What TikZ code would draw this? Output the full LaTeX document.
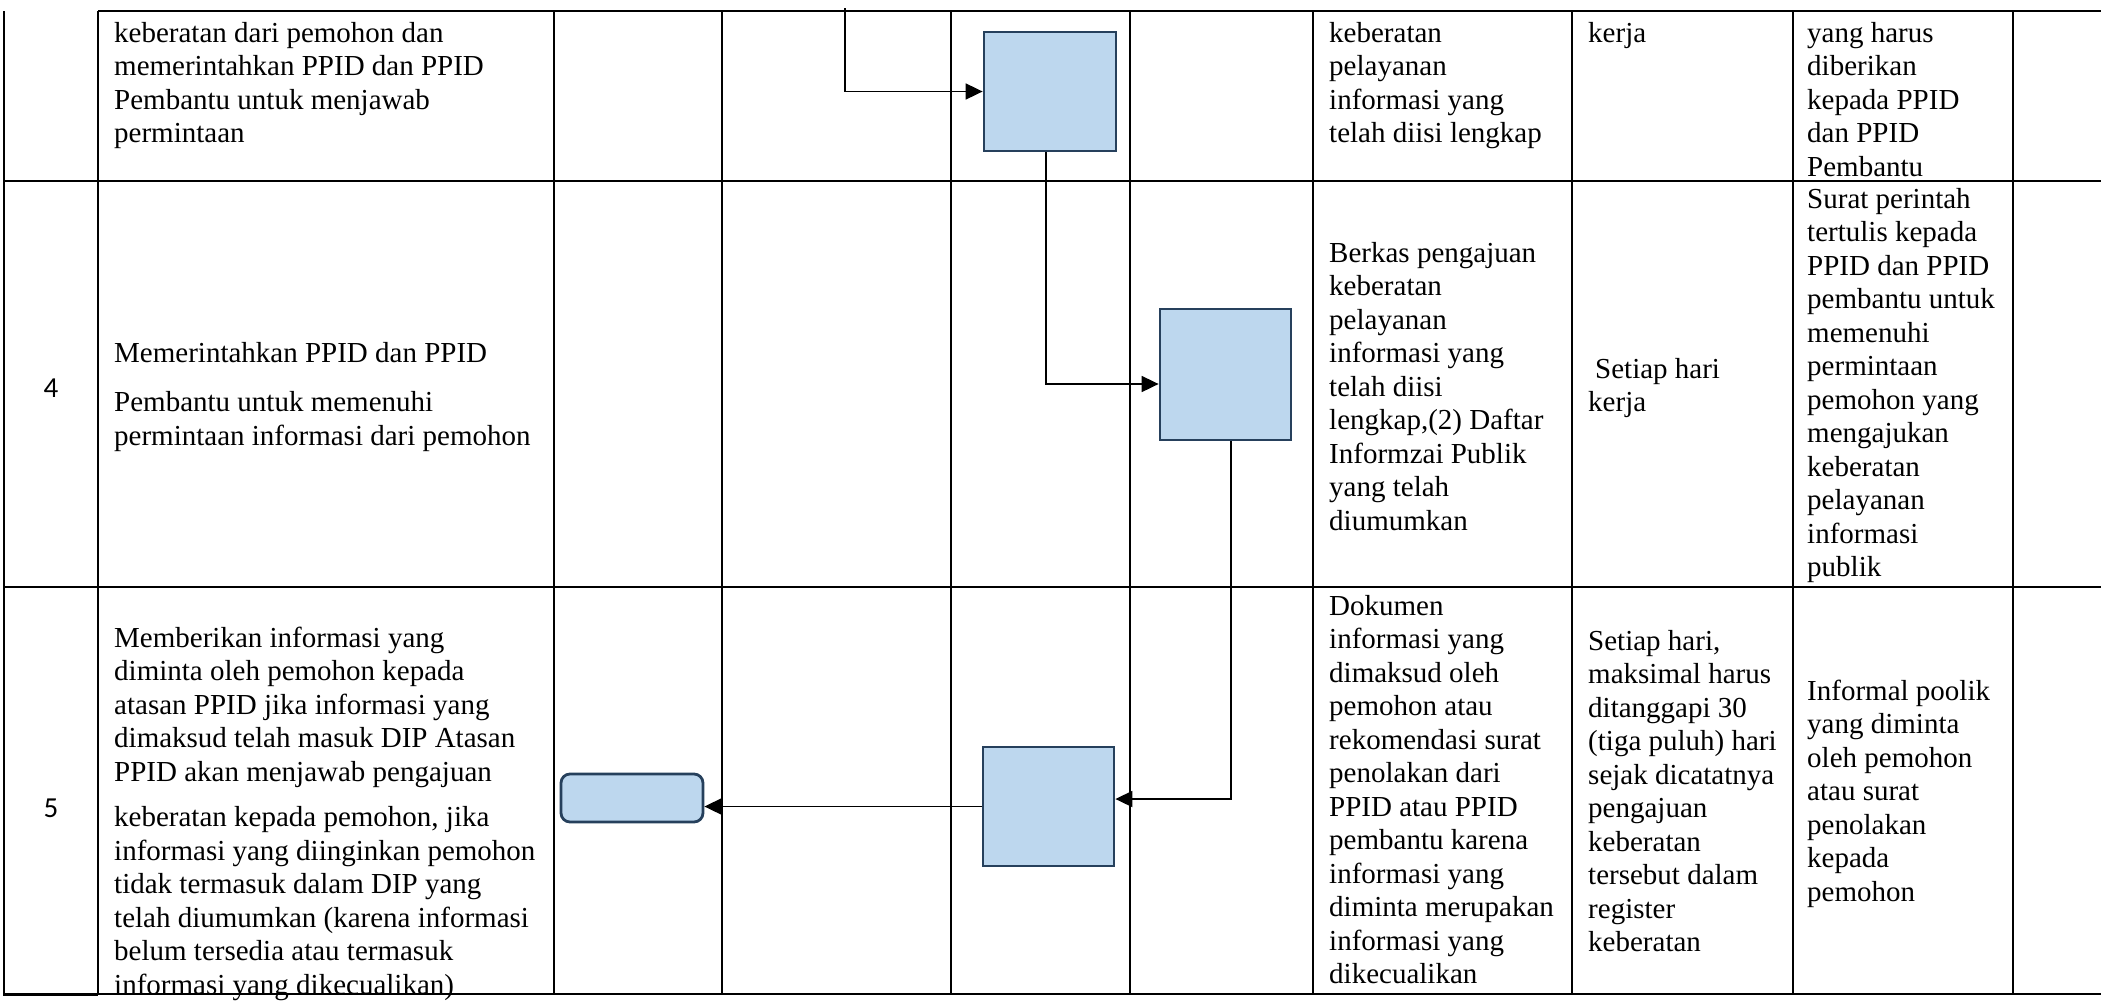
\documentclass[tikz,border=0pt]{standalone}
\usepackage{fontspec}
\setmainfont{Liberation Serif}
\newfontfamily\numfont{Carlito}
\usetikzlibrary{arrows.meta}
\definecolor{boxfill}{RGB}{189,215,238}
\definecolor{boxedge}{RGB}{38,64,92}
\newcommand{\firstln}{\rule{0pt}{22pt}}
\begin{document}
\begin{tikzpicture}[x=1pt,y=-1pt,
  grid/.style={line width=1.6pt, black},
  border/.style={line width=2.8pt, black},
  txt/.style={anchor=north west, inner sep=0pt, align=left, font=\fontsize{29}{33.5}\selectfont},
  num/.style={inner sep=0pt, font=\numfont\fontsize{29}{34}\selectfont},
  procbox/.style={draw=boxedge, fill=boxfill, line width=2.8pt, inner sep=0pt},
  endbox/.style={procbox, rounded corners=9pt},
  flow/.style={line width=1.8pt, black, -{Triangle[length=17pt,width=16pt]}}
]
\useasboundingbox (0,0) rectangle (2101,1002);

% table grid
\foreach \x in {98,554,722,951,1130,1313,1572,1793,2013}
  \draw[grid] (\x,11) -- (\x,994);
\draw[grid] (98,11) -- (2101,11);
\draw[grid] (4,181) -- (2101,181);
\draw[grid] (4,587) -- (2101,587);
\draw[grid] (4,994) -- (2101,994);
\draw[border] (4,995) -- (98,995);
\draw[border] (4,11) -- (4,996.4);

% row 3 (continued)
\node[txt] (r3d) at (114,20) {\firstln keberatan dari pemohon dan\\memerintahkan PPID dan PPID\\Pembantu untuk menjawab\\permintaan};
\node[txt] (r3a) at (1329,20) {\firstln keberatan\\pelayanan\\informasi yang\\telah diisi lengkap};
\node[txt] (r3b) at (1588,20) {\firstln kerja};
\node[txt] (r3c) at (1807,20) {\firstln yang harus\\diberikan\\kepada PPID\\dan PPID\\Pembantu};

% row 4
\node[num] (n4) at (51,388) {4};
\node[txt] (r4d) at (114,340) {\firstln Memerintahkan PPID dan PPID\\[16pt]Pembantu untuk memenuhi\\permintaan informasi dari pemohon};
\node[txt] (r4a) at (1329,240) {\firstln Berkas pengajuan\\keberatan\\pelayanan\\informasi yang\\telah diisi\\lengkap,(2) Daftar\\Informzai Publik\\yang telah\\diumumkan};
\node[txt] (r4b) at (1588,356) {\firstln\hspace*{7pt}Setiap hari\\kerja};
\node[txt] (r4c) at (1807,186) {\firstln Surat perintah\\tertulis kepada\\PPID dan PPID\\pembantu untuk\\memenuhi\\permintaan\\pemohon yang\\mengajukan\\keberatan\\pelayanan\\informasi\\publik};

% row 5
\node[num] (n5) at (51,808) {5};
\node[txt] (r5d) at (114,625) {\firstln Memberikan informasi yang\\diminta oleh pemohon kepada\\atasan PPID jika informasi yang\\dimaksud telah masuk DIP Atasan\\PPID akan menjawab pengajuan\\[12pt]keberatan kepada pemohon, jika\\informasi yang diinginkan pemohon\\tidak termasuk dalam DIP yang\\telah diumumkan (karena informasi\\belum tersedia atau termasuk\\informasi yang dikecualikan)};
\node[txt] (r5a) at (1329,593) {\firstln Dokumen\\informasi yang\\dimaksud oleh\\pemohon atau\\rekomendasi surat\\penolakan dari\\PPID atau PPID\\pembantu karena\\informasi yang\\diminta merupakan\\informasi yang\\dikecualikan};
\node[txt] (r5b) at (1588,628) {\firstln Setiap hari,\\maksimal harus\\ditanggapi 30\\(tiga puluh) hari\\sejak dicatatnya\\pengajuan\\keberatan\\tersebut dalam\\register\\keberatan};
\node[txt] (r5c) at (1807,678) {\firstln Informal poolik\\yang diminta\\oleh pemohon\\atau surat\\penolakan\\kepada\\pemohon};

% flow shapes
\node[procbox, minimum width=132pt, minimum height=119pt] (b1) at (1050,91.5) {};
\node[procbox, minimum width=131pt, minimum height=131pt] (b2) at (1225.5,374.5) {};
\node[procbox, minimum width=131pt, minimum height=119pt] (b3) at (1048.5,806.5) {};
\node[endbox, minimum width=142pt, minimum height=48pt] (e1) at (632,798) {};

% connectors
\coordinate (in1) at (845,8);
\draw[flow] (in1) |- (b1.west);
\draw[flow] ([xshift=-4pt]b1.south) |- ([yshift=-9.5pt]b2.west);
\draw[flow] ([xshift=5.5pt]b2.south) |- ([yshift=7.5pt]b3.east);
\draw[flow] (b3.west) -- (b3.west -| e1.east);
\end{tikzpicture}
\end{document}
